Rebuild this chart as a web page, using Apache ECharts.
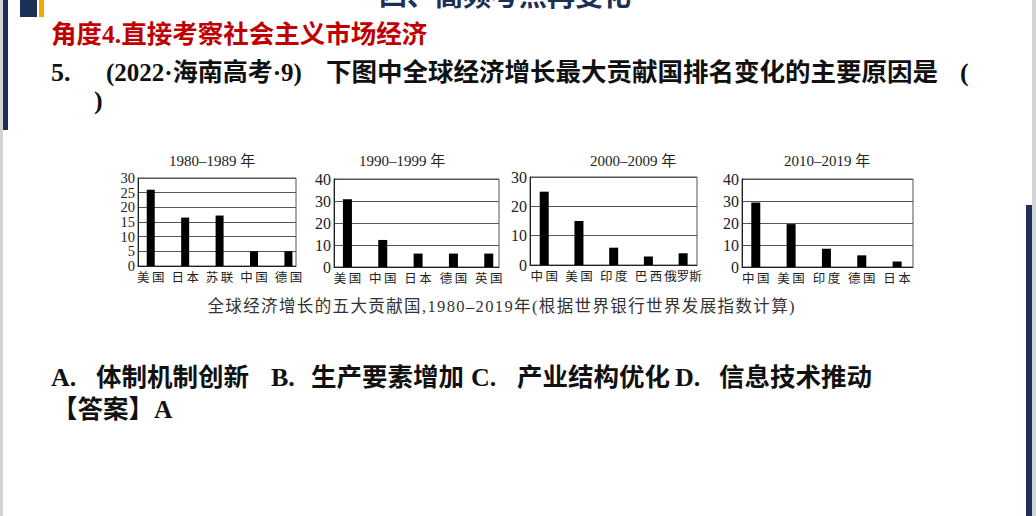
<!DOCTYPE html>
<html>
<head>
<meta charset="utf-8">
<script src="https://cdn.jsdelivr.net/npm/echarts@6/dist/echarts.min.js"></script>
<style>
html,body{margin:0;padding:0;background:#fff;}
#main{width:1036px;height:516px;}
</style>
</head>
<body>
<div id="main"></div>
<script>
// ---- data ----
const chartTitles = ['1980–1989 年', '1990–1999 年', '2000–2009 年', '2010–2019 年'];
const cats1980s = ['美国', '日本', '苏联', '中国', '德国'];
const vals1980s = [26, 16.5, 17.2, 5, 5];
const cats1990s = ['美国', '中国', '日本', '德国', '英国'];
const vals1990s = [30.8, 12.3, 6.1, 6.1, 6.1];
const cats2000s = ['中国', '美国', '印度', '巴西', '俄罗斯'];
const vals2000s = [25, 15, 5.9, 2.9, 4];
const cats2010s = ['中国', '美国', '印度', '德国', '日本'];
const vals2010s = [29.3, 19.5, 8.3, 5.3, 2.5];
const yMaxes = [30, 40, 30, 40];
const yIntervals = [5, 10, 10, 10];

const headingText = '角度4.直接考察社会主义市场经济';
const questionNo = '5.';
const questionSrc = '(2022·海南高考·9)';
const questionText = '下图中全球经济增长最大贡献国排名变化的主要原因是';
const captionText = '全球经济增长的五大贡献国,1980–2019年(根据世界银行世界发展指数计算)';
const optionLetters = ['A.', 'B.', 'C.', 'D.'];
const optionTexts = ['体制机制创新', '生产要素增加', '产业结构优化', '信息技术推动'];
const answerText = '【答案】A';
const topTitle = '四、高频考点再变化';

const allCats = [cats1980s, cats1990s, cats2000s, cats2010s];
const allVals = [vals1980s, vals1990s, vals2000s, vals2010s];

// ---- layout ----
const layouts = [
  {left: 138, top: 178, width: 158, height: 88, xMin: -0.37, xMax: 4.22, barW: 8, titleX: 212, yFont: 14.5},
  {left: 334, top: 179, width: 165, height: 88, xMin: -0.38, xMax: 4.29, barW: 9, titleX: 402, yFont: 16},
  {left: 530, top: 177, width: 167, height: 88, xMin: -0.41, xMax: 4.40, barW: 9, titleX: 633, yFont: 16},
  {left: 742, top: 179, width: 171, height: 88, xMin: -0.39, xMax: 4.45, barW: 9, titleX: 827, yFont: 16}
];

const serif = '"Liberation Serif", "Noto Sans CJK SC", serif';
const cjkBold = '"Liberation Serif", "Noto Sans CJK SC", sans-serif';

const grids = [], xAxes = [], yAxes = [], series = [];
layouts.forEach((L, i) => {
  grids.push({left: L.left, top: L.top, width: L.width, height: L.height,
    show: true, borderColor: '#555', borderWidth: 1, backgroundColor: 'transparent'});
  const cats = allCats[i];
  xAxes.push({
    type: 'value', gridIndex: i, min: L.xMin, max: L.xMax,
    axisLine: {show: true, onZero: false, lineStyle: {color: '#222', width: 1}},
    axisTick: {show: false},
    splitLine: {show: false},
    axisLabel: {
      customValues: cats.map((c, k) => k),
      showMinLabel: true, showMaxLabel: true, hideOverlap: false,
      formatter: v => {
        const c = cats[Math.round(v)] || '';
        return c.length <= 2 ? c.split('').join('\u2009') : c;
      },
      color: '#222', fontSize: 12.5, margin: 4,
      fontFamily: '"Noto Sans CJK SC", sans-serif'
    }
  });
  yAxes.push({
    type: 'value', gridIndex: i, min: 0, max: yMaxes[i], interval: yIntervals[i],
    axisLine: {show: true, onZero: false, lineStyle: {color: '#222'}},
    axisTick: {show: false},
    splitLine: {show: true, lineStyle: {color: '#555', width: 1}},
    axisLabel: {color: '#222', fontSize: L.yFont, lineHeight: L.yFont, margin: 3, fontFamily: serif,
      showMinLabel: true, showMaxLabel: true, hideOverlap: false}
  });
  series.push({
    type: 'bar', xAxisIndex: i, yAxisIndex: i,
    data: allVals[i].map((v, k) => [k, v]),
    barWidth: L.barW, itemStyle: {color: '#000'}, silent: true
  });
});

const graphics = [];
// slide decorations
graphics.push({type: 'rect', shape: {x: 0, y: 0, width: 3, height: 516}, style: {fill: '#d4d4d4'}});
graphics.push({type: 'rect', shape: {x: 3, y: 0, width: 5, height: 130}, style: {fill: '#1b2f57'}});
graphics.push({type: 'rect', shape: {x: 20, y: 0, width: 17, height: 17}, style: {fill: '#1b2f57'}});
graphics.push({type: 'rect', shape: {x: 39, y: 0, width: 5, height: 17}, style: {fill: '#f2a900'}});
graphics.push({type: 'rect', shape: {x: 1032, y: 0, width: 4, height: 516}, style: {fill: '#d4d4d4'}});
graphics.push({type: 'rect', shape: {x: 1026, y: 205, width: 6, height: 311}, style: {fill: '#1b2f57'}});
// top title (partly above the slide edge, as in the reference)
graphics.push({type: 'text', x: 505, y: -6, style: {text: topTitle, fill: '#1b2f57',
  font: 'bold 28px "Noto Sans CJK SC", sans-serif', textAlign: 'center', textVerticalAlign: 'middle'}});
// heading
graphics.push({type: 'text', x: 51, y: 34, style: {text: headingText, fill: '#c00000',
  font: 'bold 25.5px ' + cjkBold, textVerticalAlign: 'middle'}});
// question
graphics.push({type: 'text', x: 51, y: 72, style: {text: questionNo, fill: '#111',
  font: 'bold 26px ' + cjkBold, textVerticalAlign: 'middle'}});
graphics.push({type: 'text', x: 106, y: 72, style: {text: questionSrc, fill: '#111',
  font: 'bold 25px ' + cjkBold, textVerticalAlign: 'middle'}});
graphics.push({type: 'text', x: 326, y: 72, style: {text: questionText, fill: '#111',
  font: 'bold 25.5px ' + cjkBold, textVerticalAlign: 'middle'}});
graphics.push({type: 'text', x: 960, y: 72, style: {text: '(', fill: '#111',
  font: 'bold 26px ' + cjkBold, textVerticalAlign: 'middle'}});
graphics.push({type: 'text', x: 94, y: 100, style: {text: ')', fill: '#111',
  font: 'bold 26px ' + cjkBold, textVerticalAlign: 'middle'}});
// chart titles
layouts.forEach((L, i) => {
  graphics.push({type: 'text', x: L.titleX, y: 161, style: {text: chartTitles[i], fill: '#222',
    font: '15px ' + serif, textAlign: 'center', textVerticalAlign: 'middle'}});
});
// caption (slightly spaced characters, as printed)
graphics.push({type: 'text', x: 501, y: 306, style: {text: captionText.split('').join('\u200A'), fill: '#333',
  font: '16.5px ' + serif, textAlign: 'center', textVerticalAlign: 'middle'}});
// options
const letterX = [51, 271, 471, 675];
const optX = [96, 311, 517, 719];
optionLetters.forEach((l, i) => {
  graphics.push({type: 'text', x: letterX[i], y: 377, style: {text: l, fill: '#111',
    font: 'bold 26px ' + cjkBold, textVerticalAlign: 'middle'}});
  graphics.push({type: 'text', x: optX[i], y: 377, style: {text: optionTexts[i], fill: '#111',
    font: 'bold 25.5px ' + cjkBold, textVerticalAlign: 'middle'}});
});
graphics.push({type: 'text', x: 52, y: 409, style: {text: answerText, fill: '#111',
  font: 'bold 25.5px ' + cjkBold, textVerticalAlign: 'middle'}});

const chart = echarts.init(document.getElementById('main'), null, {renderer: 'svg'});
chart.setOption({
  animation: false,
  backgroundColor: '#fff',
  grid: grids, xAxis: xAxes, yAxis: yAxes, series: series,
  graphic: graphics
});
</script>
</body>
</html>
